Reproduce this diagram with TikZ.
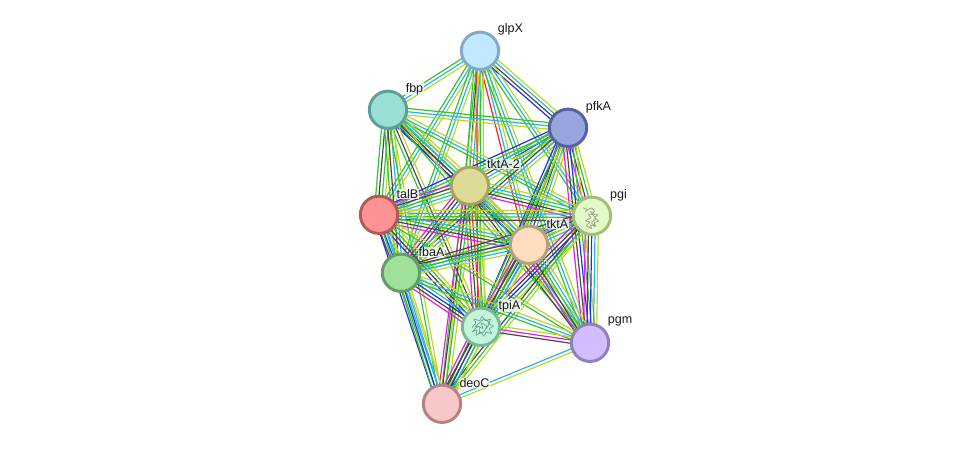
\documentclass[tikz,border=0pt]{standalone}
\usepackage{fontspec}
\setmainfont{Liberation Sans}
\usetikzlibrary{
	backgrounds,
	calc,
}
\definecolor{lnA}{HTML}{33C433} % green
\definecolor{lnB}{HTML}{2BB5DC} % cyan
\definecolor{lnC}{HTML}{BCD52E} % lime
\definecolor{lnD}{HTML}{484848} % dark
\definecolor{lnE}{HTML}{E020E0} % magenta
\definecolor{lnF}{HTML}{2030E8} % blue
\definecolor{lnR}{HTML}{F02828} % red
\tikzset{
	protein/.style={circle, draw, line width=2.2pt, minimum size=28pt, inner sep=0pt},
	tag/.style={inner sep=0.5pt, font=\fontsize{9.4pt}{10pt}\selectfont, text=black!90, fill=white, fill opacity=0.75, text opacity=1},
	fold/.style={line width=0.5pt, rounded corners=0.6pt},
}
% parallel lines between two proteins, one per colour
\newcommand{\bundle}[3]{
	\foreach \c [count=\k] in {#3} {
		\xdef\nlines{\k}
	}
	\foreach \c [count=\k] in {#3} {
		\pgfmathsetmacro{\off}{(\k-(\nlines+1)/2)*2.45}
		\draw[\c, line width=0.9pt] ($(#1.center)!\off pt!90:(#2.center)$) -- ($(#2.center)!\off pt!-90:(#1.center)$);
	}
}

\begin{document}
\begin{tikzpicture}[x=0.75pt, y=-0.75pt]
	\useasboundingbox (0,-0.8) rectangle (975,448.2);

	% proteins
	\node[protein, draw={rgb,255:red,127;green,171;blue,203}, fill={rgb,255:red,194;green,232;blue,255}] (glpX) at (480,50) {};
	\node[protein, draw={rgb,255:red,94;green,159;blue,153}, fill={rgb,255:red,152;green,224;blue,213}] (fbp) at (388,109) {};
	\node[protein, draw={rgb,255:red,84;green,99;blue,160}, fill={rgb,255:red,154;green,165;blue,224}] (pfkA) at (568,127) {};
	\node[protein, draw={rgb,255:red,166;green,162;blue,98}, fill={rgb,255:red,222;green,219;blue,151}] (tktA2) at (470,185) {};
	\node[protein, draw={rgb,255:red,176;green,90;blue,90}, fill={rgb,255:red,255;green,147;blue,147}] (talB) at (379,214) {};
	\node[protein, draw={rgb,255:red,162;green,188;blue,126}, fill={rgb,255:red,226;green,251;blue,198}] (pgi) at (592,215) {};
	\node[protein, draw={rgb,255:red,184;green,159;blue,128}, fill={rgb,255:red,255;green,222;blue,192}] (tktA) at (529,244) {};
	\node[protein, draw={rgb,255:red,98;green,158;blue,99}, fill={rgb,255:red,159;green,224;blue,154}] (fbaA) at (401,272) {};
	\node[protein, draw={rgb,255:red,127;green,181;blue,151}, fill={rgb,255:red,195;green,245;blue,220}] (tpiA) at (481,326) {};
	\node[protein, draw={rgb,255:red,146;green,125;blue,190}, fill={rgb,255:red,210;green,190;blue,255}] (pgm) at (590,342) {};
	\node[protein, draw={rgb,255:red,176;green,132;blue,132}, fill={rgb,255:red,248;green,200;blue,200}] (deoC) at (442,403) {};

	% labels
	\node[tag] (t1) at (510.5,28) {glpX};
	\node[tag] (t2) at (414.5,88) {fbp};
	\node[tag] (t3) at (598.5,106) {pfkA};
	\node[tag] (t4) at (503.5,163) {tktA-2};
	\node[tag] (t5) at (407.5,193) {talB};
	\node[tag] (t6) at (618.5,194) {pgi};
	\node[tag] (t7) at (557.5,223) {tktA};
	\node[tag] (t8) at (431.5,251) {fbaA};
	\node[tag] (t9) at (509.5,305) {tpiA};
	\node[tag] (t10) at (620,321) {pgm};
	\node[tag] (t11) at (474.5,382) {deoC};

	% connections
	\begin{scope}[on background layer]
		\bundle{glpX}{fbp}{lnA,lnB,lnC}
		\bundle{glpX}{pfkA}{lnF,lnD,lnB,lnC}
		\bundle{glpX}{tktA2}{lnA,lnD,lnB,lnC}
		\bundle{glpX}{talB}{lnA,lnB,lnC}
		\bundle{glpX}{fbaA}{lnA,lnB,lnC}
		\bundle{glpX}{tktA}{lnR,lnB,lnC}
		\bundle{glpX}{pgi}{lnA,lnB,lnC}
		\bundle{glpX}{tpiA}{lnR,lnA,lnC}
		\bundle{glpX}{pgm}{lnA,lnB,lnC}
		\bundle{glpX}{deoC}{lnA,lnC}
		\bundle{fbp}{pfkA}{lnC,lnB,lnA}
		\bundle{fbp}{tktA2}{lnF,lnD,lnA,lnB,lnC}
		\bundle{fbp}{talB}{lnA,lnD,lnA,lnC}
		\bundle{fbp}{pgi}{lnA,lnB,lnC}
		\bundle{fbp}{tktA}{lnF,lnD,lnB,lnC}
		\bundle{fbp}{fbaA}{lnA,lnD,lnB,lnC}
		\bundle{fbp}{tpiA}{lnA,lnD,lnC}
		\bundle{fbp}{pgm}{lnA,lnC}
		\bundle{fbp}{deoC}{lnA,lnC}
		\bundle{pfkA}{tktA2}{lnA,lnD,lnB,lnC}
		\bundle{pfkA}{talB}{lnF,lnA,lnB,lnC}
		\bundle{pfkA}{pgi}{lnE,lnD,lnA,lnC}
		\bundle{pfkA}{tktA}{lnF,lnD,lnB,lnC}
		\bundle{pfkA}{fbaA}{lnA,lnD,lnB,lnC}
		\bundle{pfkA}{tpiA}{lnF,lnD,lnA,lnC}
		\bundle{pfkA}{pgm}{lnE,lnD,lnF,lnA,lnC}
		\bundle{pfkA}{deoC}{lnA,lnC}
		\bundle{tktA2}{talB}{lnE,lnD,lnA,lnB,lnC}
		\bundle{tktA2}{pgi}{lnE,lnD,lnA,lnB,lnC}
		\bundle{tktA2}{tktA}{lnD,lnA,lnB,lnC}
		\bundle{tktA2}{fbaA}{lnE,lnD,lnF,lnA,lnC}
		\bundle{tktA2}{tpiA}{lnE,lnD,lnR,lnA,lnC}
		\bundle{tktA2}{pgm}{lnD,lnA,lnB,lnC}
		\bundle{tktA2}{deoC}{lnE,lnD,lnA,lnC}
		\bundle{talB}{pgi}{lnD,lnA,lnB,lnC}
		\bundle{talB}{tktA}{lnE,lnD,lnA,lnB,lnC}
		\bundle{talB}{fbaA}{lnD,lnF,lnB,lnC}
		\bundle{talB}{tpiA}{lnF,lnD,lnA,lnC}
		\bundle{talB}{pgm}{lnA,lnC}
		\bundle{talB}{deoC}{lnF,lnA,lnB,lnC}
		\bundle{pgi}{tktA}{lnE,lnD,lnA,lnB,lnC}
		\bundle{pgi}{fbaA}{lnD,lnA,lnB,lnC}
		\bundle{pgi}{tpiA}{lnE,lnD,lnF,lnA,lnC}
		\bundle{pgi}{pgm}{lnE,lnD,lnF,lnB,lnC}
		\bundle{pgi}{deoC}{lnD,lnA,lnC}
		\bundle{tktA}{fbaA}{lnD,lnA,lnB,lnC}
		\bundle{tktA}{tpiA}{lnE,lnD,lnF,lnA,lnC}
		\bundle{tktA}{pgm}{lnE,lnD,lnA,lnB,lnC}
		\bundle{tktA}{deoC}{lnD,lnA,lnB,lnC}
		\bundle{fbaA}{tpiA}{lnE,lnD,lnF,lnB,lnC}
		\bundle{fbaA}{pgm}{lnA,lnB,lnC}
		\bundle{fbaA}{deoC}{lnA,lnF,lnB,lnC}
		\bundle{tpiA}{pgm}{lnD,lnE,lnC}
		\bundle{tpiA}{deoC}{lnE,lnD,lnF,lnA,lnC}
		\bundle{pgm}{deoC}{lnB,lnC}
	\end{scope}

	% structure sketches
	\draw[fold, color=black!40] (583,207) -- (588,209) -- (585,211) -- (591,207) -- (595,210) -- (592,213) -- (598,214)
		-- (594,217) -- (599,220) -- (594,222) -- (596,226) -- (590,224) -- (592,228) -- (586,225)
		-- (590,221) -- (585,220) -- (591,217) -- (588,213) -- (594,214) -- (590,210) -- (596,218) -- (591,222) -- (595,225);
	\draw[fold, color=black!55!blue!60!green!60] (472,327) -- (476,322) -- (474,318) -- (480,320) -- (482,315) -- (485,320) -- (491,318)
		-- (488,323) -- (494,325) -- (489,328) -- (492,333) -- (486,331) -- (484,336) -- (481,331)
		-- (476,335) -- (477,329) -- (472,331) -- (478,325) -- (483,328) -- (481,322) -- (487,325) -- (484,331)
		-- (479,333) -- (480,326) -- (475,326) -- (484,318) -- (490,322) -- (486,328);
\end{tikzpicture}
\end{document}
